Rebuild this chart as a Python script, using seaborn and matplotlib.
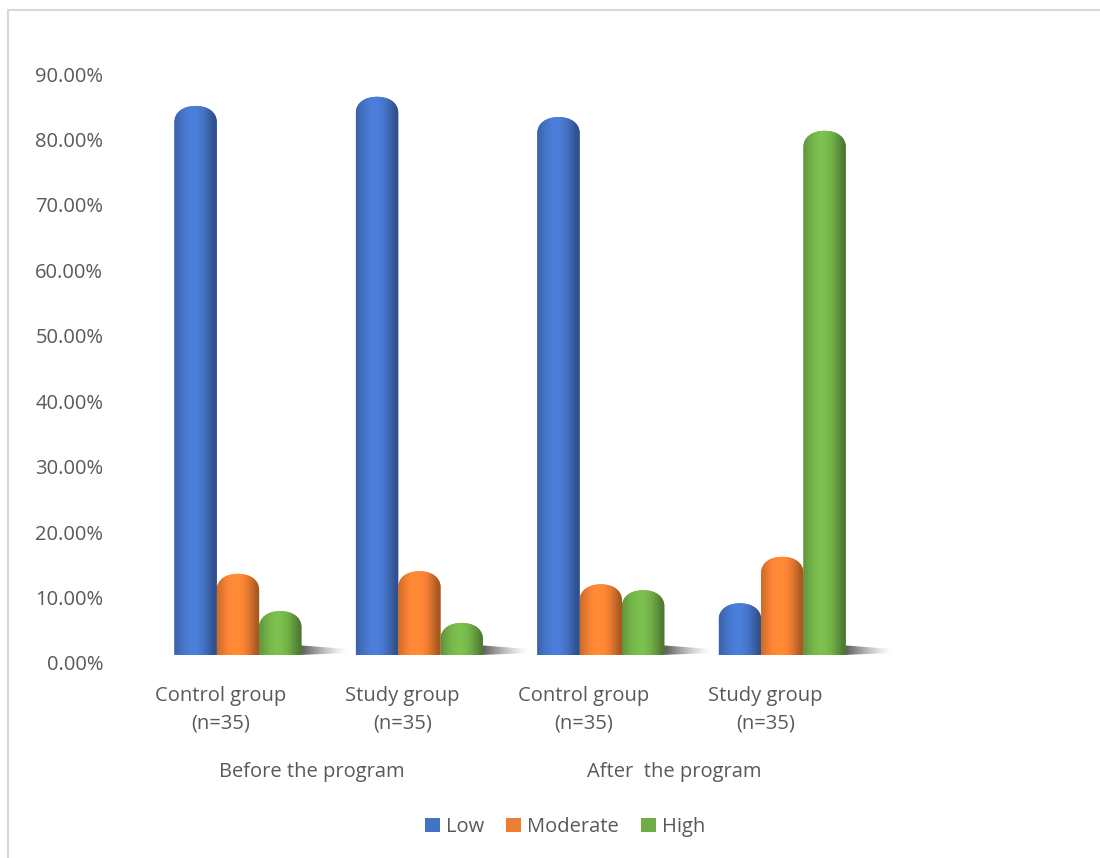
import numpy as np
import pandas as pd
import matplotlib
matplotlib.use("Agg")
import matplotlib.pyplot as plt
import seaborn as sns
from matplotlib.path import Path
from matplotlib.patches import PathPatch, Patch
from matplotlib.lines import Line2D
from matplotlib import colors as mcolors
import matplotlib.transforms as mtrans

# ---------------- data ----------------
groups = ["Control group\n(n=35)", "Study group\n(n=35)",
          "Control group \n(n=35)", "Study group \n(n=35)"]
phases = ["Before the program", "After  the program"]
levels = ["Low", "Moderate", "High"]
low = [82.9, 84.3, 81.2, 6.9]
moderate = [11.4, 11.8, 9.8, 14.0]
high = [5.7, 3.9, 8.9, 79.1]
yticks = [0, 10, 20, 30, 40, 50, 60, 70, 80, 90]
palette = ["#4472C4", "#ED7D31", "#70AD47"]

df = pd.DataFrame({
    "group": groups * 3,
    "level": [levels[0]] * 4 + [levels[1]] * 4 + [levels[2]] * 4,
    "value": low + moderate + high,
})

sns.set_theme(style="white")
plt.rcParams["font.family"] = ["Open Sans", "DejaVu Sans"]
txt = "#595959"
FS = 14.5

W, H = 1100, 858
fig = plt.figure(figsize=(W / 100, H / 100), dpi=100)
# axes: x 120..1000 px, y: 0 at 655 px, scale 6.544 px per %
y0_px = 655
ppu = 6.544
top_px = y0_px - 90 * ppu
ax = fig.add_axes([120 / W, (H - y0_px) / H, 880 / W, (y0_px - top_px) / H])

sns.barplot(data=df, x="group", y="value", hue="level", order=groups,
            hue_order=levels, palette=palette, width=0.70, saturation=1,
            ax=ax, legend=False)

ax.set_xlim(-0.65, 4.2)
ax.set_ylim(0, 90)

# replace flat bars with shaded cylinders that have rounded tops
cap = 16 / ppu  # cap height in data units
g = np.linspace(0, 1, 64)
shade = 0.86 + 0.26 * np.sin(np.pi * np.clip(g * 1.1, 0, 1)) - 0.18 * g ** 4
shade = np.clip(shade, 0.65, 1.15)

bars = list(ax.patches)
for p in bars:
    x0, w, h = p.get_x(), p.get_width(), p.get_height()
    if h <= 0:
        continue
    col = np.array(mcolors.to_rgb(p.get_facecolor()))
    p.set_visible(False)
    top = h + 1.0
    sh = top - cap
    k = 0.6
    verts = [(x0, 0), (x0, sh),
             (x0, sh + cap * k), (x0 + w / 2 - w / 2 * k, top), (x0 + w / 2, top),
             (x0 + w / 2 + w / 2 * k, top), (x0 + w, sh + cap * k), (x0 + w, sh),
             (x0 + w, 0), (x0, 0)]
    codes = [Path.MOVETO, Path.LINETO,
             Path.CURVE4, Path.CURVE4, Path.CURVE4,
             Path.CURVE4, Path.CURVE4, Path.CURVE4,
             Path.LINETO, Path.CLOSEPOLY]
    path = Path(verts, codes)
    pp = PathPatch(path, facecolor=col, edgecolor="none", zorder=3)
    ax.add_patch(pp)
    img = np.clip(col[None, :, None] * shade[None, None, :], 0, 1)
    img = np.transpose(img, (0, 2, 1))
    im = ax.imshow(img, extent=(x0, x0 + w, 0, top), aspect="auto",
                   interpolation="bilinear", zorder=3.5)
    im.set_clip_path(pp)

# floor shadow right of each group (thin tapering wedge)
for i in range(len(groups)):
    grp_bars = [b for b in bars if abs(b.get_x() + b.get_width() / 2 - i) < 0.5]
    right = max(b.get_x() + b.get_width() for b in grp_bars)
    L = 0.26
    wedge = Path([(right - 0.02, 0.0), (right - 0.02, 1.5), (right + L, 0.9),
                  (right + L, 0.3), (right - 0.02, 0.0)],
                 [Path.MOVETO, Path.LINETO, Path.LINETO, Path.LINETO, Path.CLOSEPOLY])
    wp = PathPatch(wedge, facecolor="none", edgecolor="none")
    ax.add_patch(wp)
    sx = np.linspace(0, 1, 64)
    simg = np.zeros((1, 64, 4))
    simg[..., :3] = 0.12
    simg[0, :, 3] = (1 - sx) ** 1.4 * 0.8
    si = ax.imshow(simg, extent=(right - 0.02, right + L, 0.0, 1.5),
                   aspect="auto", interpolation="bilinear", zorder=2)
    si.set_clip_path(wp)

ax.set_xlim(-0.65, 4.2)
ax.set_ylim(0, 90)

for s in ax.spines.values():
    s.set_visible(False)
ax.set_yticks(yticks)
ax.set_yticklabels([f"{v:.2f}%" for v in yticks], color=txt, fontsize=FS)
ax.tick_params(axis="y", length=0, pad=12)
yoff = mtrans.ScaledTranslation(0, -8 / 100, fig.dpi_scale_trans)
for lab in ax.get_yticklabels():
    lab.set_transform(lab.get_transform() + yoff)

ax.set_xticks(range(len(groups)))
ax.set_xticklabels([gname.replace(" \n", "\n") for gname in groups],
                   color=txt, fontsize=FS, linespacing=1.5)
ax.tick_params(axis="x", length=0, pad=22)
off = mtrans.ScaledTranslation(-17 / 100, 0, fig.dpi_scale_trans)
for lab in ax.get_xticklabels():
    lab.set_transform(lab.get_transform() + off)
ax.set_xlabel("")
ax.set_ylabel("")

# phase labels under the group pairs
for j, ph in enumerate(phases):
    xc = 2 * j + 0.5
    ax.text(xc, 0, ph, transform=ax.get_xaxis_transform() + off +
            mtrans.ScaledTranslation(0, -117 / 100, fig.dpi_scale_trans),
            ha="center", va="center", color=txt, fontsize=FS)

# legend
handles = [Patch(facecolor=c, edgecolor="none") for c in palette]
fig.legend(handles, levels, loc="center", bbox_to_anchor=(565 / W, 1 - 827 / H),
           ncol=3, frameon=False, fontsize=FS, handlelength=0.75, handleheight=0.75,
           handletextpad=0.3, columnspacing=1.1, labelcolor=txt)

# light frame lines (top and left)
fig.add_artist(Line2D([8 / W, 1], [1 - 10 / H, 1 - 10 / H], color="#D9D9D9", lw=1.5))
fig.add_artist(Line2D([8 / W, 8 / W], [0, 1 - 10 / H], color="#D9D9D9", lw=1.5))

fig.savefig("out.png", dpi=100)
